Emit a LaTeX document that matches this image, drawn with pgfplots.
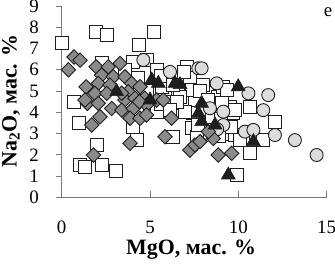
\documentclass[border=0pt]{standalone}
\usepackage{pgfplots}
\pgfplotsset{compat=1.18}
\usepackage{fontspec}
\setmainfont{Liberation Serif}
\definecolor{axgray}{HTML}{7A7A7A}
\definecolor{dia}{HTML}{8A8A8A}
\definecolor{circ}{HTML}{DCDCDC}
\definecolor{edge}{HTML}{1E1E1E}
\begin{document}
\begin{tikzpicture}
\begin{axis}[
  at={(0,0)}, anchor=south west,
  scale only axis, width=265bp, height=191.3bp,
  xmin=0, xmax=15, ymin=0, ymax=9,
  axis x line=bottom, axis y line=left,
  axis line style={-, axgray, line width=0.9pt},
  xtick={0,5,10,15}, ytick={0,1,...,9},
  xtick align=inside, ytick align=outside,
  major tick length=6bp,
  tick style={axgray, line width=0.8pt},
  /pgf/number format/assume math mode=true,
  tick label style={font=\fontsize{19}{19}\selectfont, inner sep=0pt},
  xticklabel style={anchor=base, yshift=-35.7bp},
  yticklabel style={anchor=east, xshift=-16.7bp},
  label style={font=\fontsize{22}{22}\selectfont\bfseries},
  xlabel={MgO, мас. \%},
  ylabel={Na\textsubscript{2}O, мас. \%},
  xlabel style={at={(axis description cs:0.488,-0.3016)}, anchor=base},
  ylabel style={at={(axis description cs:-0.170,0.503)}, anchor=base},
  clip=false,
]
% open squares
\addplot[only marks, mark=square*, mark size=6.5bp, mark options={fill=white, draw=edge, line width=0.9pt}] coordinates {
(0.0,7.27) (1.92,7.79) (2.58,7.66) (5.23,7.79) (4.4,7.16) (4.06,6.38) (4.8,6.46) (5.4,6.0)
(2.26,6.3) (0.7,4.5) (1.0,3.48) (1.98,2.46) (1.04,1.52) (1.32,1.44) (2.26,1.52) (3.06,1.25)
(4.06,3.32) (4.25,2.7) (6.32,2.85) (7.07,6.14) (7.26,5.6) (7.36,5.05) (6.6,5.05) (6.79,4.42)
(6.7,4.73) (7.45,3.95) (7.36,3.25) (7.64,2.85) (8.2,4.9) (8.86,4.72) (9.15,5.2) (9.34,5.05)
(9.5,4.26) (9.05,4.42) (9.72,3.95) (9.81,4.1) (8.58,3.32) (9.2,3.0) (9.81,2.93) (10.28,2.85)
(10.66,2.07) (9.9,1.05) (10.66,4.26) (11.41,2.7) (12.07,3.56) (5.0,4.2) (5.4,4.0) (5.9,4.5)
(6.0,5.5) (5.7,5.2) (8.0,5.3) (5.6,5.7) (6.3,5.3) (6.9,5.9) (7.8,5.0) (8.3,4.6) (8.0,4.0)
(8.5,3.8) (9.0,3.7) (9.6,3.3) (7.0,4.0) (6.5,4.5) (5.6,4.4) (4.8,5.0) (4.3,5.6) (3.6,6.0)
(8.9,2.9) (7.7,3.4) (10.1,2.7) (6.1,4.1)
};
% light circles
\addplot[only marks, mark=*, mark size=6.5bp, mark options={fill=circ, draw=edge, line width=0.9pt}] coordinates {
(4.62,6.46) (6.13,5.9) (7.73,6.07) (7.92,6.07) (8.77,5.36) (10.57,4.89) (11.69,4.81) (11.41,4.1)
(8.39,4.19) (9.15,4.03) (9.15,3.4) (8.8,3.2) (10.37,3.09) (10.85,3.17) (12.07,2.93) (13.2,2.69)
(14.43,1.99)
};
% grey diamonds
\addplot[only marks, mark=square*, mark size=5.1bp, mark options={rotate=45, fill=dia, draw=edge, line width=0.9pt}] coordinates {
(0.38,6.0) (0.7,6.6) (1.04,6.45) (1.38,5.2) (1.45,4.42) (1.7,3.4) (1.8,1.99) (1.95,6.14)
(2.64,6.14) (3.3,6.3) (2.26,5.75) (2.92,5.67) (3.58,5.67) (3.96,5.36) (2.07,5.36) (2.73,5.28)
(1.88,4.89) (2.55,4.89) (3.77,4.97) (4.43,5.2) (1.32,4.58) (2.07,4.42) (3.58,4.58) (4.15,4.66)
(4.7,4.66) (2.83,4.18) (3.4,4.1) (4.05,4.18) (4.8,4.34) (5.38,4.58) (2.17,3.79) (3.87,3.72)
(4.43,3.72) (4.8,3.87) (3.87,2.54) (5.75,4.58) (5.85,2.85) (6.22,3.72) (7.26,2.22) (7.54,2.46)
(7.83,2.62) (8.58,2.77) (8.86,1.99) (9.62,2.07) (8.3,3.09) (3.4,4.9) (4.4,4.5)
};
% black triangles
\addplot[only marks, mark=triangle*, mark size=8bp, mark options={fill=edge, draw=edge, line width=0.6pt}] coordinates {
(3.11,4.97) (5.0,4.58) (5.1,5.52) (5.47,5.36) (6.41,5.36) (6.7,5.3) (7.92,4.42) (7.74,3.95)
(7.92,3.56) (8.68,3.4) (9.99,5.2) (10.85,2.62) (9.43,1.05)
};
\end{axis}
\node[anchor=base, font=\fontsize{19}{19}\selectfont, inner sep=0pt] at (266.3bp,180.3bp) {e};
\pgfresetboundingbox
\useasboundingbox (-61.7bp,-66.7bp) rectangle (273.3bp,197.3bp);
\end{tikzpicture}
\end{document}
